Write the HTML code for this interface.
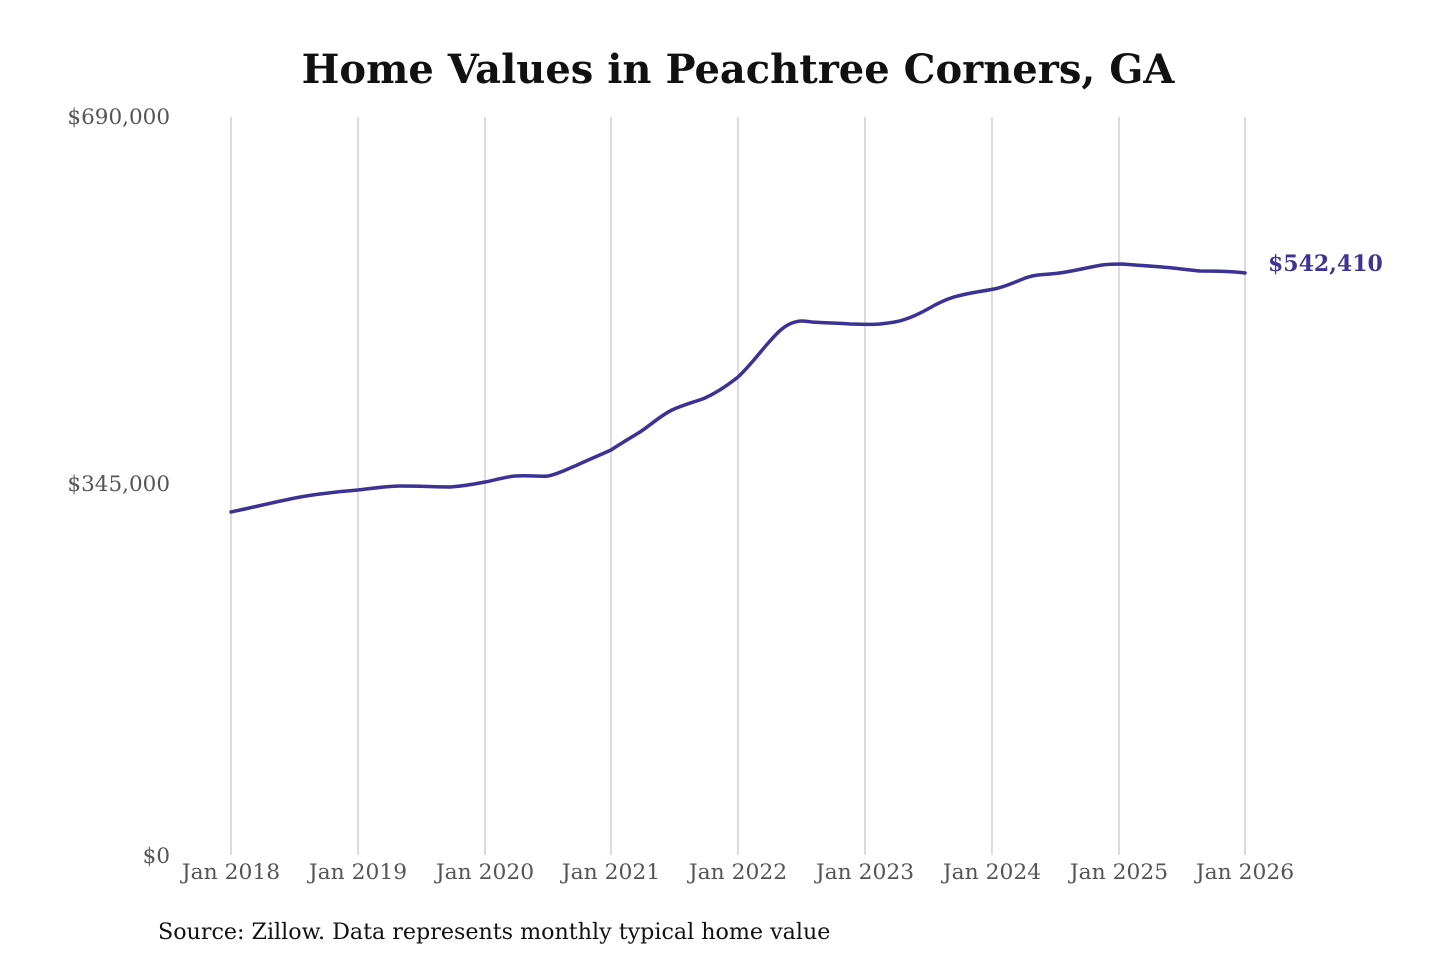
<!DOCTYPE html>
<html><head><meta charset="utf-8"><style>
html,body{margin:0;padding:0;background:#fff;}
svg{display:block;}
</style></head><body>
<svg width="1440" height="960" viewBox="0 0 1440 960" xmlns="http://www.w3.org/2000/svg">
<text x="738" y="83" text-anchor="middle" font-family="DejaVu Serif, serif" font-weight="bold" font-size="40" fill="#111">Home Values in Peachtree Corners, GA</text>
<g stroke="#c8c8c8" stroke-width="1.3">
<line x1="231" y1="117" x2="231" y2="855"/>
<line x1="358" y1="117" x2="358" y2="855"/>
<line x1="485" y1="117" x2="485" y2="855"/>
<line x1="611" y1="117" x2="611" y2="855"/>
<line x1="738" y1="117" x2="738" y2="855"/>
<line x1="865" y1="117" x2="865" y2="855"/>
<line x1="992" y1="117" x2="992" y2="855"/>
<line x1="1119" y1="117" x2="1119" y2="855"/>
<line x1="1245" y1="117" x2="1245" y2="855"/>
</g>
<g font-family="DejaVu Serif, serif" font-size="21.5" fill="#555">
<text x="170" y="124" text-anchor="end">$690,000</text>
<text x="170" y="491" text-anchor="end">$345,000</text>
<text x="170" y="863" text-anchor="end">$0</text>
<g text-anchor="middle" font-size="21.8">
<text x="231" y="879">Jan 2018</text>
<text x="358" y="879">Jan 2019</text>
<text x="485" y="879">Jan 2020</text>
<text x="611" y="879">Jan 2021</text>
<text x="738" y="879">Jan 2022</text>
<text x="865" y="879">Jan 2023</text>
<text x="992" y="879">Jan 2024</text>
<text x="1119" y="879">Jan 2025</text>
<text x="1245" y="879">Jan 2026</text>
</g>
</g>
<path fill="none" stroke="#3a3294" stroke-width="3.5" stroke-linejoin="round" stroke-linecap="round"
d="M231,512 C250,508 275,502 295,498 C305,496 312,495 320,494 C335,492 345,491 358,490 C375,488 388,486 400,486 C420,486 435,487 450,487 C465,486 475,484 485,482 C495,480 505,477 515,476 C530,475 540,477 548,476 C558,474 565,470 575,466 C588,460 600,455 611,450 C620,444 630,438 640,432 C652,424 660,416 672,410 C685,404 695,402 705,398 C718,392 728,385 738,377 C750,366 760,352 770,341 C778,332 784,326 792,323 C800,320 805,321 812,322 C825,323 840,323 850,324 C860,324 870,325 880,324 C890,323 898,322 906,319 C918,315 926,310 935,305 C945,300 952,297 962,295 C975,292 984,291 994,289 C1004,287 1010,284 1018,281 C1025,278 1030,276 1038,275 C1048,274 1056,274 1066,272 C1078,270 1090,267 1102,265 C1110,264 1116,264 1122,264 C1135,265 1150,266 1162,267 C1175,268 1188,270 1200,271 C1215,271 1230,271 1245,273"/>
<text x="1268" y="271" font-family="DejaVu Serif, serif" font-weight="bold" font-size="22" fill="#3d3591">$542,410</text>
<text x="158" y="939" font-family="DejaVu Serif, serif" font-size="22.2" fill="#111">Source: Zillow. Data represents monthly typical home value</text>
</svg>
</body></html>
